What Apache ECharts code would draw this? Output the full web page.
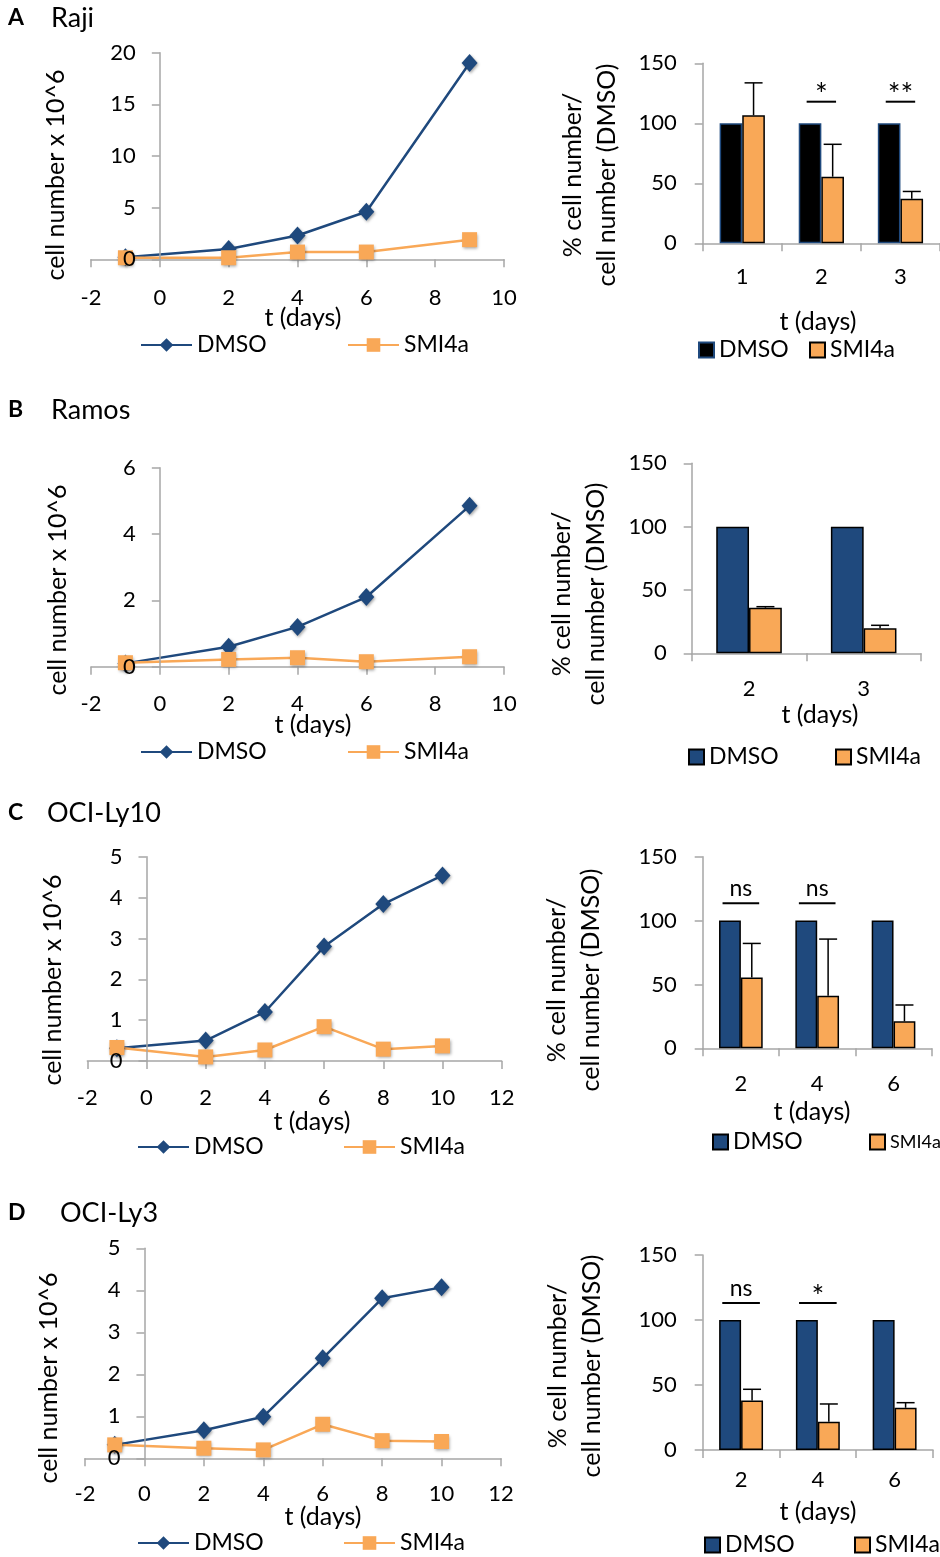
<!DOCTYPE html>
<html><head><meta charset="utf-8">
<script src="https://cdn.jsdelivr.net/npm/echarts@6/dist/echarts.min.js"></script>
<style>html,body{margin:0;padding:0;background:#fff}#c{width:940px;height:1557px}</style>
</head><body><div id="c"></div><script>
// ---------------- DATA ----------------
const daysAB = [-1, 2, 4, 6, 9];
const daysCD = [-1, 2, 4, 6, 8, 10];
const lineA_DMSO  = [0.2, 1.0, 2.3, 4.6, 19.0];
const lineA_SMI4a = [0.15, 0.15, 0.7, 0.7, 1.9];
const lineB_DMSO  = [0.1, 0.6, 1.2, 2.1, 4.85];
const lineB_SMI4a = [0.12, 0.22, 0.27, 0.15, 0.3];
const lineC_DMSO  = [0.31, 0.5, 1.2, 2.8, 3.84, 4.54];
const lineC_SMI4a = [0.33, 0.1, 0.27, 0.84, 0.29, 0.37];
const lineD_DMSO  = [0.32, 0.67, 0.99, 2.38, 3.81, 4.07];
const lineD_SMI4a = [0.32, 0.24, 0.2, 0.81, 0.42, 0.4];

const barA_cats = ['1', '2', '3'];
const barA_DMSO = [100, 100, 100];
const barA_SMI4a = [106.7, 55.5, 37.2];
const barA_err = [27, 27, 6];
const barA_sig = ['', '*', '**'];
const barA_sigY = 118;

const barB_cats = ['2', '3'];
const barB_DMSO = [100, 100];
const barB_SMI4a = [36, 19.7];
const barB_err = [0.8, 2.4];
const barB_sig = ['', ''];
const barB_sigY = 0;

const barC_cats = ['2', '4', '6'];
const barC_DMSO = [100, 100, 100];
const barC_SMI4a = [55.5, 41.2, 21.1];
const barC_err = [26.6, 44.3, 12.8];
const barC_sig = ['ns', 'ns', ''];
const barC_sigY = 113.5;

const barD_cats = ['2', '4', '6'];
const barD_DMSO = [100, 100, 100];
const barD_SMI4a = [38, 21.8, 32.5];
const barD_err = [8.7, 13.6, 3.9];
const barD_sig = ['ns', '*', ''];
const barD_sigY = 113;

const xTicksAB = {min: -2, max: 10, interval: 2};
const xTicksCD = {min: -2, max: 12, interval: 2};
const yTicksA = {min: 0, max: 20, interval: 5};
const yTicksB = {min: 0, max: 6, interval: 2};
const yTicksCD = {min: 0, max: 5, interval: 1};
const yTicksBar = {min: 0, max: 150, interval: 50};

const lineYName = 'cell number x 10^6';
const barYName = '% cell number/\ncell number (DMSO)';
const xName = 't (days)';

// ---------------- STYLE / LAYOUT ----------------
const FONT = 'Lato';
const BLUE = '#1F497D', ORANGE = '#F9A857', AX = '#A6A6A6';
const BAR_FRAC = 0.286;
const NAME_FONT = '25px ' + FONT;

const linePanels = [
  {key: 'A', letter: 'A', title: 'Raji', titleY: 18, titleX: 51, days: daysAB, dmso: lineA_DMSO, smi: lineA_SMI4a, xt: xTicksAB, yt: yTicksA,
   grid: {left: 91, top: 52.7, width: 413, height: 206.6}, yName: [56, 175], xName: [303, 318], legY: 345, legX: [140, 347], xm: 28, ym: 24},
  {key: 'B', letter: 'B', title: 'Ramos', titleY: 410, titleX: 51, days: daysAB, dmso: lineB_DMSO, smi: lineB_SMI4a, xt: xTicksAB, yt: yTicksB,
   grid: {left: 91, top: 467.7, width: 413, height: 199}, yName: [58, 590], xName: [313, 725], legY: 752, legX: [140, 347], xm: 26, ym: 24},
  {key: 'C', letter: 'C', title: 'OCI-Ly10', titleY: 813, titleX: 47, days: daysCD, dmso: lineC_DMSO, smi: lineC_SMI4a, xt: xTicksCD, yt: yTicksCD,
   grid: {left: 87.3, top: 856.7, width: 414.4, height: 204.3}, yName: [52.5, 980], xName: [312, 1122], legY: 1147, legX: [137, 343], xm: 26, ym: 24},
  {key: 'D', letter: 'D', title: 'OCI-Ly3', titleY: 1213, titleX: 60, days: daysCD, dmso: lineD_DMSO, smi: lineD_SMI4a, xt: xTicksCD, yt: yTicksCD,
   grid: {left: 85, top: 1248.3, width: 416, height: 210}, yName: [49, 1378], xName: [323, 1517], legY: 1543, legX: [137, 343], xm: 25, ym: 24}
];

const barPanels = [
  {key: 'Ab', cats: barA_cats, dmso: barA_DMSO, smi: barA_SMI4a, err: barA_err, sig: barA_sig, sigY: barA_sigY, sigHalf: 0.186,
   dmsoFill: '#000000', dmsoBorder: BLUE,
   grid: {left: 702.7, top: 63.3, width: 237.3, height: 180}, yName: [590, 175], xName: [818, 322], legY: 350, legX: [698, 809], legFont: [23, 23], xm: 23, ym: 26},
  {key: 'Bb', cats: barB_cats, dmso: barB_DMSO, smi: barB_SMI4a, err: barB_err, sig: barB_sig, sigY: barB_sigY, sigHalf: 0.2,
   dmsoFill: BLUE, dmsoBorder: '#000000',
   grid: {left: 691.7, top: 463.3, width: 229.3, height: 190}, yName: [579, 594], xName: [820, 715], legY: 757, legX: [688, 835], legFont: [23, 23], xm: 25, ym: 25},
  {key: 'Cb', cats: barC_cats, dmso: barC_DMSO, smi: barC_SMI4a, err: barC_err, sig: barC_sig, sigY: barC_sigY, sigHalf: 0.24,
   dmsoFill: BLUE, dmsoBorder: '#000000',
   grid: {left: 702.7, top: 856.7, width: 229, height: 191.6}, yName: [574, 980], xName: [812, 1112], legY: 1142, legX: [712, 869], legFont: [23, 18], xm: 25, ym: 26},
  {key: 'Db', cats: barD_cats, dmso: barD_DMSO, smi: barD_SMI4a, err: barD_err, sig: barD_sig, sigY: barD_sigY, sigHalf: 0.245,
   dmsoFill: BLUE, dmsoBorder: '#000000',
   grid: {left: 702.7, top: 1255, width: 230.3, height: 195}, yName: [575, 1366], xName: [818, 1512], legY: 1545, legX: [704, 854], legFont: [23, 23], xm: 19, ym: 26}
];

// ---------------- BUILD ----------------
const grids = [], xAxes = [], yAxes = [], series = [], legends = [], graphics = [];
const labelStyle = {color: '#000', fontFamily: FONT, fontSize: 22};
const axisLineStyle = {lineStyle: {color: AX, width: 1.5}};
const tickStyle = {show: true, inside: false, length: 8, lineStyle: {color: AX, width: 1.5}};
function legendText(size) { return {color: '#000', fontFamily: FONT, fontSize: size, lineHeight: 23}; }

function txt(x, y, text, opts) {
  return Object.assign({type: 'text', x: x, y: y, z: 100,
    style: Object.assign({text: text, fill: '#000', font: NAME_FONT, textAlign: 'center', textVerticalAlign: 'middle'}, opts || {})});
}
function legendFmt(name) { return name.split('#')[0]; }

linePanels.forEach(function (p) {
  const gi = grids.length;
  grids.push(Object.assign({containLabel: false}, p.grid));
  xAxes.push({type: 'value', gridIndex: gi, min: p.xt.min, max: p.xt.max, interval: p.xt.interval,
    splitLine: {show: false}, axisLine: Object.assign({show: true, onZero: true}, axisLineStyle), axisTick: tickStyle,
    axisLabel: Object.assign({margin: p.xm, showMinLabel: true, showMaxLabel: true}, labelStyle)});
  // y axis crosses the x axis at day 0: shift it from the grid's left edge by the scale position of 0
  const zeroShift = (0 - p.xt.min) / (p.xt.max - p.xt.min) * p.grid.width;
  yAxes.push({type: 'value', gridIndex: gi, min: p.yt.min, max: p.yt.max, interval: p.yt.interval, z: 5,
    offset: -zeroShift,
    splitLine: {show: false}, axisLine: Object.assign({show: true, onZero: false}, axisLineStyle), axisTick: tickStyle,
    axisLabel: Object.assign({margin: p.ym}, labelStyle)});
  const shadow = {shadowBlur: 3, shadowColor: 'rgba(0,0,0,0.35)', shadowOffsetX: 1, shadowOffsetY: 1.5};
  series.push({type: 'line', name: 'DMSO#' + p.key, xAxisIndex: gi, yAxisIndex: gi, clip: false,
    data: p.days.map(function (d, i) { return [d, p.dmso[i]]; }),
    symbol: 'diamond', symbolSize: [16, 18], color: BLUE,
    lineStyle: {color: BLUE, width: 2.5}, itemStyle: Object.assign({color: BLUE}, shadow)});
  series.push({type: 'line', name: 'SMI4a#' + p.key, xAxisIndex: gi, yAxisIndex: gi, clip: false,
    data: p.days.map(function (d, i) { return [d, p.smi[i]]; }),
    symbol: 'rect', symbolSize: 15, color: ORANGE,
    lineStyle: {color: ORANGE, width: 2.5}, itemStyle: Object.assign({color: ORANGE}, shadow)});
  ['DMSO#' + p.key, 'SMI4a#' + p.key].forEach(function (nm, k) {
    legends.push({show: true, selectedMode: false, data: [nm], formatter: legendFmt, left: p.legX[k], top: p.legY - 11.5,
      itemWidth: 51, itemHeight: 17, padding: 0, textStyle: legendText(23)});
  });
  graphics.push(txt(8, p.titleY, p.letter, {font: 'bold 23px ' + FONT, textAlign: 'left'}));
  graphics.push(txt(p.titleX, p.titleY, p.title, {font: '27px ' + FONT, textAlign: 'left'}));
  const yn = txt(p.yName[0], p.yName[1], lineYName); yn.rotation = Math.PI / 2; graphics.push(yn);
  graphics.push(txt(p.xName[0], p.xName[1], xName));
});

barPanels.forEach(function (p) {
  const gi = grids.length;
  grids.push(Object.assign({containLabel: false}, p.grid));
  xAxes.push({type: 'category', gridIndex: gi, data: p.cats, boundaryGap: true,
    axisLine: Object.assign({show: true}, axisLineStyle), axisTick: tickStyle,
    axisLabel: Object.assign({margin: p.xm}, labelStyle)});
  yAxes.push({type: 'value', gridIndex: gi, min: yTicksBar.min, max: yTicksBar.max, interval: yTicksBar.interval,
    splitLine: {show: false}, axisLine: Object.assign({show: true}, axisLineStyle), axisTick: tickStyle,
    axisLabel: Object.assign({margin: p.ym}, labelStyle)});
  series.push({type: 'bar', name: 'DMSO#' + p.key, xAxisIndex: gi, yAxisIndex: gi, data: p.dmso,
    barWidth: (BAR_FRAC * 100) + '%', barGap: '0%', color: p.dmsoFill,
    itemStyle: {color: p.dmsoFill, borderColor: p.dmsoBorder, borderWidth: 1.5}});
  series.push({type: 'bar', name: 'SMI4a#' + p.key, xAxisIndex: gi, yAxisIndex: gi, data: p.smi,
    barWidth: (BAR_FRAC * 100) + '%', barGap: '0%', color: ORANGE,
    itemStyle: {color: ORANGE, borderColor: '#000', borderWidth: 1.5}});
  // error bars (upper only), through the axis scales
  series.push({type: 'custom', xAxisIndex: gi, yAxisIndex: gi, z: 10, silent: true,
    data: p.smi.map(function (v, i) { return [i, v, p.err[i]]; }),
    encode: {x: 0, y: 1},
    renderItem: function (params, api) {
      const ci = api.value(0), v = api.value(1), e = api.value(2);
      const band = api.size([1, 0])[0];
      const p0 = api.coord([ci, v]), p1 = api.coord([ci, v + e]);
      const x = p0[0] + band * BAR_FRAC / 2;
      const cap = 9;
      return {type: 'group', children: [
        {type: 'line', shape: {x1: x, y1: p0[1], x2: x, y2: p1[1]}, style: {stroke: '#000', lineWidth: 1.5}},
        {type: 'line', shape: {x1: x - cap, y1: p1[1], x2: x + cap, y2: p1[1]}, style: {stroke: '#000', lineWidth: 1.5}}
      ]};
    }});
  // significance markers
  const sigIdx = [];
  p.sig.forEach(function (t, i) { if (t) sigIdx.push(i); });
  if (sigIdx.length) {
    series.push({type: 'custom', xAxisIndex: gi, yAxisIndex: gi, z: 10, silent: true,
      data: sigIdx.map(function (i) { return [i, p.sigY]; }),
      encode: {x: 0, y: 1},
      renderItem: function (params, api) {
        const ci = api.value(0), y = api.value(1);
        const band = api.size([1, 0])[0];
        const c = api.coord([ci, y]);
        const hw = band * p.sigHalf;
        const t = p.sig[sigIdx[params.dataIndex]];
        const star = t.indexOf('*') >= 0;
        return {type: 'group', children: [
          {type: 'line', shape: {x1: c[0] - hw, y1: c[1], x2: c[0] + hw, y2: c[1]}, style: {stroke: '#000', lineWidth: 2}},
          {type: 'text', x: c[0], y: c[1] - (star ? 6 : 15), style: {text: t, fill: '#000', font: (star ? '30px ' : '23px ') + FONT, align: 'center', verticalAlign: 'middle'}}
        ]};
      }});
  }
  ['DMSO#' + p.key, 'SMI4a#' + p.key].forEach(function (nm, k) {
    legends.push({show: true, selectedMode: false, data: [nm], formatter: legendFmt, left: p.legX[k], top: p.legY - 11.5,
      itemWidth: 15, itemHeight: 15, padding: 0, icon: 'rect', textStyle: legendText(p.legFont[k])});
  });
  const yn = txt(p.yName[0], p.yName[1], barYName, {lineHeight: 34}); yn.rotation = Math.PI / 2; graphics.push(yn);
  graphics.push(txt(p.xName[0], p.xName[1], xName));
});

const chart = echarts.init(document.getElementById('c'), null, {renderer: 'canvas', width: 940, height: 1557});
chart.setOption({
  animation: false,
  backgroundColor: '#fff',
  textStyle: {fontFamily: FONT},
  grid: grids, xAxis: xAxes, yAxis: yAxes, series: series, legend: legends, graphic: graphics
});
</script></body></html>
